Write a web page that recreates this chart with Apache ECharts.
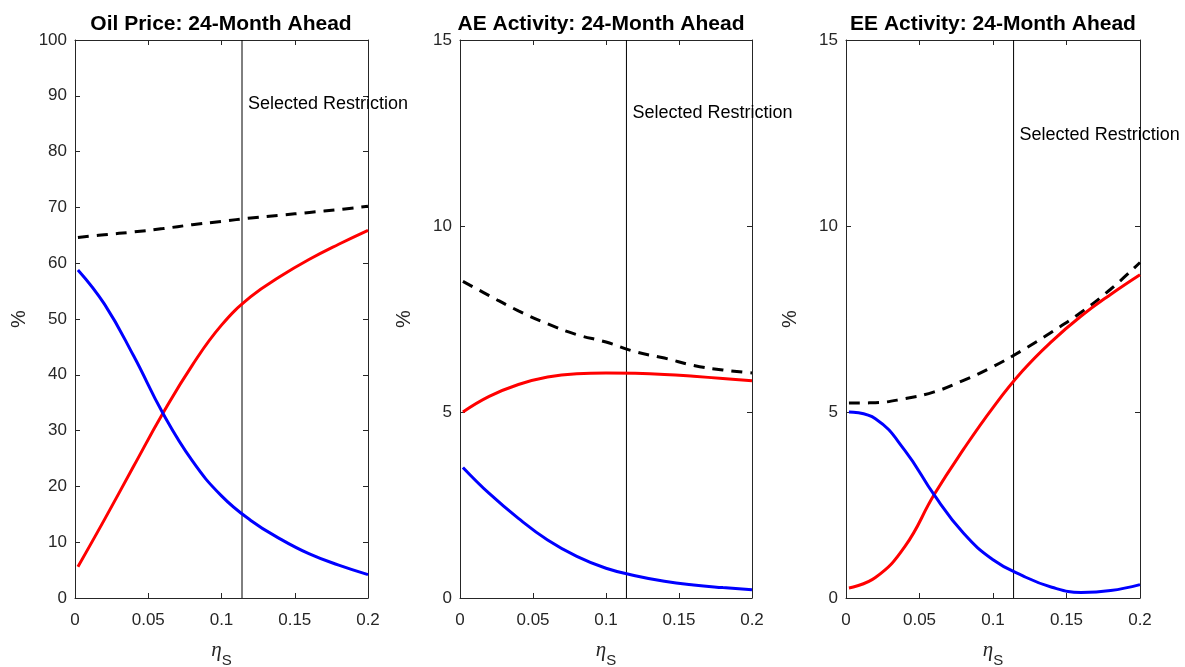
<!DOCTYPE html>
<html>
<head>
<meta charset="utf-8">
<script src="https://cdn.jsdelivr.net/npm/echarts@6/dist/echarts.min.js"></script>
<style>html,body{margin:0;padding:0;background:#fff;}#c{width:1185px;height:667px;}</style>
</head>
<body>
<div id="c"></div>
<script>
// ---- data ----
const xs = [0.002, 0.02, 0.04, 0.06, 0.08, 0.10, 0.12, 0.14, 0.16, 0.18, 0.20];

const titles = ['Oil Price: 24-Month Ahead', 'AE Activity: 24-Month Ahead', 'EE Activity: 24-Month Ahead'];
const yMax = [100, 15, 15];
const yInterval = [10, 5, 5];
const xTickInterval = 0.05;
const selectedRestriction = 0.114;
const restrictionLabel = 'Selected Restriction';
const restrictionLabelY = [88.5, 13.05, 12.45];

const oilTotal = [64.6, 65.1, 65.6, 66.2, 66.9, 67.5, 68.1, 68.6, 69.1, 69.6, 70.2];
const oilRed   = [5.6, 14.0, 23.6, 33.1, 41.7, 48.9, 54.0, 57.6, 60.7, 63.4, 65.9];
const oilBlue  = [58.8, 52.7, 43.4, 33.1, 24.6, 18.3, 13.9, 10.6, 7.9, 5.9, 4.2];

const aeTotal = [8.51, 8.13, 7.72, 7.37, 7.08, 6.88, 6.62, 6.45, 6.25, 6.13, 6.05];
const aeRed   = [5.00, 5.42, 5.74, 5.94, 6.03, 6.05, 6.04, 6.01, 5.96, 5.90, 5.84];
const aeBlue  = [3.51, 2.81, 2.14, 1.56, 1.12, 0.80, 0.60, 0.45, 0.35, 0.28, 0.22];

const eeTotal = [5.24, 5.25, 5.36, 5.54, 5.85, 6.22, 6.66, 7.15, 7.68, 8.30, 9.02];
const eeRed   = [0.27, 0.55, 1.38, 2.78, 4.00, 5.12, 6.10, 6.90, 7.58, 8.16, 8.69];
const eeBlue  = [5.00, 4.82, 3.97, 2.77, 1.74, 1.03, 0.60, 0.29, 0.15, 0.20, 0.36];

const panels = [
  [oilTotal, oilRed, oilBlue],
  [aeTotal, aeRed, aeBlue],
  [eeTotal, eeRed, eeBlue]
];

// ---- layout / style ----
const gridBoxes = [
  {left: 75, top: 40, width: 293, height: 558},
  {left: 460, top: 40, width: 292, height: 558},
  {left: 846, top: 40, width: 294, height: 558}
];
const titleCenters = [221, 601, 993];
const axisColor = '#262626';
const FONT = 'Liberation Sans, Arial, Helvetica, sans-serif';

const chart = echarts.init(document.getElementById('c'), null, {renderer: 'canvas'});

const grid = [], xAxis = [], yAxis = [], series = [], title = [];

gridBoxes.forEach((g, p) => {
  grid.push(Object.assign({containLabel: false, outerBoundsMode: 'none'}, g));
  title.push({
    text: titles[p],
    left: titleCenters[p],
    top: 14,
    padding: 0,
    textAlign: 'center',
    textStyle: {fontFamily: FONT, fontWeight: 'bold', fontSize: 21, color: '#000'}
  });
  const common = {
    gridIndex: p,
    type: 'value',
    min: 0,
    max: 0.2,
    interval: xTickInterval,
    splitLine: {show: false},
    axisLine: {show: true, onZero: false, lineStyle: {color: axisColor, width: 1}},
    axisTick: {show: true, inside: true, length: 5, lineStyle: {color: axisColor}}
  };
  xAxis.push(Object.assign({}, common, {
    position: 'bottom',
    axisLabel: {show: true, fontFamily: FONT, fontSize: 17, color: axisColor, margin: 14},
    name: '{e|η}{s|S}',
    nameLocation: 'middle',
    nameGap: 35,
    nameTextStyle: {
      rich: {
        e: {fontFamily: 'Liberation Serif, serif', fontStyle: 'italic', fontSize: 21, color: axisColor},
        s: {fontFamily: FONT, fontSize: 15, color: axisColor, padding: [20, 0, 0, 0]}
      }
    }
  }));
  xAxis.push(Object.assign({}, common, {position: 'top', axisLabel: {show: false}}));
  const ycommon = {
    gridIndex: p,
    type: 'value',
    min: 0,
    max: yMax[p],
    interval: yInterval[p],
    splitLine: {show: false},
    axisLine: {show: true, onZero: false, lineStyle: {color: axisColor, width: 1}},
    axisTick: {show: true, inside: true, length: 5, lineStyle: {color: axisColor}}
  };
  yAxis.push(Object.assign({}, ycommon, {
    position: 'left',
    axisLabel: {show: true, fontFamily: FONT, fontSize: 17, color: axisColor, margin: 8},
    name: '%',
    nameLocation: 'middle',
    nameGap: 46,
    nameRotate: 90,
    nameTextStyle: {fontFamily: FONT, fontSize: 20, color: axisColor}
  }));
  yAxis.push(Object.assign({}, ycommon, {position: 'right', axisLabel: {show: false}}));

  const [tot, red, blue] = panels[p];
  const toData = arr => xs.map((x, i) => [x, arr[i]]);
  const base = {
    type: 'line',
    xAxisIndex: p * 2,
    yAxisIndex: p * 2,
    showSymbol: false,
    symbol: 'none',
    smooth: 0.45,
    silent: true,
    animation: false,
    clip: true
  };
  // vertical "selected restriction" line
  series.push({
    type: 'line',
    name: 'restriction' + p,
    xAxisIndex: p * 2,
    yAxisIndex: p * 2,
    showSymbol: false,
    symbol: 'none',
    silent: true,
    animation: false,
    data: [[selectedRestriction, 0], [selectedRestriction, yMax[p]]],
    lineStyle: {color: '#000', width: 1},
    z: 2,
    markPoint: {
      silent: true,
      animation: false,
      symbol: 'rect',
      symbolSize: 0,
      label: {
        show: true,
        position: 'right',
        distance: 6,
        formatter: restrictionLabel,
        fontFamily: FONT,
        fontSize: 18,
        color: '#000'
      },
      data: [{coord: [selectedRestriction, restrictionLabelY[p]]}]
    }
  });
  series.push(Object.assign({}, base, {
    name: 'total' + p,
    data: toData(tot),
    lineStyle: {color: '#000', width: 3, type: [11, 8]},
    z: 3
  }));
  series.push(Object.assign({}, base, {
    name: 'red' + p,
    data: toData(red),
    lineStyle: {color: '#ff0000', width: 3},
    z: 4
  }));
  series.push(Object.assign({}, base, {
    name: 'blue' + p,
    data: toData(blue),
    lineStyle: {color: '#0000ff', width: 3},
    z: 5
  }));
});

chart.setOption({
  animation: false,
  backgroundColor: '#fff',
  title, grid, xAxis, yAxis, series
});
</script>
</body>
</html>
